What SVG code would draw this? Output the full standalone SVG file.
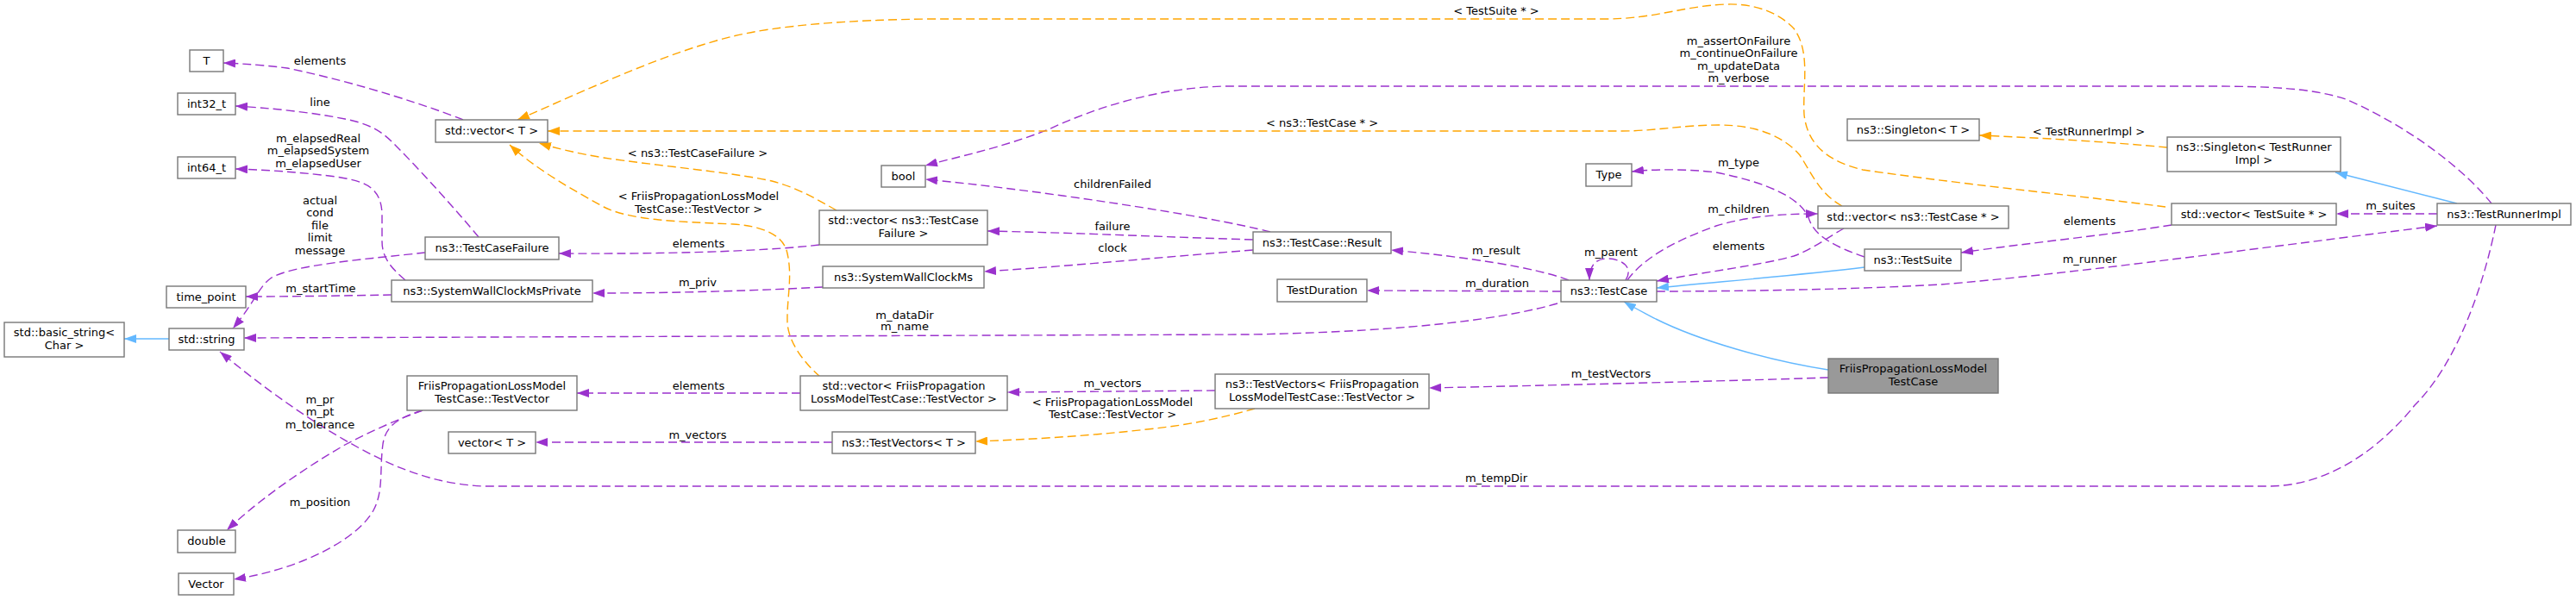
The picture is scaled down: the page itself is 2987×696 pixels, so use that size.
<svg xmlns="http://www.w3.org/2000/svg" width="2987" height="696" viewBox="0 0 2987 696">
<style>
text{font-family:"DejaVu Sans","Liberation Sans",sans-serif;font-size:13px;fill:#000}
.node text{text-anchor:middle}
.node rect{fill:#fff;stroke:#777;stroke-width:1.4}
#n_root rect{fill:#999}
.lbl text{text-anchor:middle}
.e{fill:none;stroke-width:1.4}
.p{stroke:#9a32cd;stroke-dasharray:10,5;marker-end:url(#ap)}
.o{stroke:#ffa500;stroke-dasharray:10,5;marker-end:url(#ao)}
.b{stroke:#63b8ff;marker-end:url(#ab)}
</style>
<defs>
<marker id="ap" viewBox="0 0 14 10" refX="14" refY="5" markerWidth="14" markerHeight="10" orient="auto" markerUnits="userSpaceOnUse"><path d="M0,0L14,5L0,10z" fill="#9a32cd"/></marker>
<marker id="ao" viewBox="0 0 14 10" refX="14" refY="5" markerWidth="14" markerHeight="10" orient="auto" markerUnits="userSpaceOnUse"><path d="M0,0L14,5L0,10z" fill="#ffa500"/></marker>
<marker id="ab" viewBox="0 0 14 10" refX="14" refY="5" markerWidth="14" markerHeight="10" orient="auto" markerUnits="userSpaceOnUse"><path d="M0,0L14,5L0,10z" fill="#63b8ff"/></marker>
</defs>
<rect width="2987" height="696" fill="#fff"/>
<g id="edges">
<path class="e p" d="M537,139 C505,126 420,97 333,79 C310,76 285,74 259,73"/>
<path class="e p" d="M555,275 C530,245 490,200 455,165 C440,150 425,143 400,138 C360,130 310,125 273,123"/>
<path class="e p" d="M470,325 C455,312 443,300 443,280 L443,250 C443,215 420,210 390,205 C350,200 310,197 273,196"/>
<path class="e p" d="M493,293 C430,300 340,307 315,322 C300,332 296,350 270,381"/>
<path class="e p" d="M454,342 C400,343 340,344 285,344"/>
<path class="e b" d="M196,393 L144,393"/>
<path class="e p" d="M1806,352 C1750,368 1650,384 1450,388 L283,392"/>
<path class="e p" d="M490,476 C465,485 430,500 400,516 C350,545 300,580 263,615"/>
<path class="e p" d="M490,476 C460,485 447,495 444,515 C440,545 445,570 433,592 C415,625 350,660 271,672"/>
<path class="e p" d="M2894,261 C2880,330 2850,420 2800,470 C2760,520 2700,564 2630,564 L560,564 C520,562 490,553 460,541 C400,515 330,470 255,408"/>
<path class="e p" d="M1819,325 C1780,310 1700,298 1613,290"/>
<path class="e p" d="M1810,338 L1585,337"/>
<path class="e p" d="M1885,325 C1895,310 1880,300 1864,300 C1850,300 1843,308 1843,325"/>
<path class="e p" d="M1887,325 C1905,300 1940,280 1990,262 C2030,250 2070,248 2108,248"/>
<path class="e p" d="M2138,265 C2120,275 2100,290 2080,297 C2040,308 1980,315 1921,326"/>
<path class="e p" d="M2162,298 C2130,287 2105,275 2098,255 C2090,230 2050,212 1990,200 C1950,195 1910,197 1892,199"/>
<path class="e b" d="M2162,310 C2080,320 1990,327 1921,334"/>
<path class="e b" d="M2120,429 C2050,418 1970,395 1920,370 C1905,362 1893,356 1883,350"/>
<path class="e p" d="M2120,438 C2000,442 1800,447 1657,450"/>
<path class="e p" d="M1409,453 L1168,455"/>
<path class="e o" d="M1455,474 C1420,484 1380,493 1330,498 C1260,506 1190,510 1131,512"/>
<path class="e p" d="M928,456 L669,456"/>
<path class="e p" d="M965,513 L621,513"/>
<path class="e o" d="M951,437 C935,423 915,400 913,375 C912,345 920,320 912,290 C905,270 880,262 850,260 C780,257 730,255 700,240 C660,218 620,195 591,168"/>
<path class="e o" d="M970,244 C945,230 925,218 895,210 C850,200 760,192 700,183 C670,178 645,172 625,166"/>
<path class="e p" d="M950,284 C900,290 800,295 648,294"/>
<path class="e p" d="M954,333 C880,337 790,340 687,340"/>
<path class="e p" d="M1473,269 C1400,250 1200,220 1073,208"/>
<path class="e p" d="M1453,278 C1350,275 1250,270 1145,268"/>
<path class="e p" d="M1453,290 C1350,298 1250,308 1141,315"/>
<path class="e p" d="M2889,236 C2860,200 2800,150 2720,115 C2680,102 2630,100 2560,100 L1420,100 C1340,102 1270,125 1216,150 C1160,172 1110,182 1073,192"/>
<path class="e o" d="M2511,240 C2420,228 2300,217 2160,197 C2110,185 2095,160 2092,133 C2090,100 2100,60 2080,33 C2060,12 2030,4 2002,5 C1950,7 1920,22 1860,22 L1080,22 C980,23 900,30 850,42 C770,62 690,100 600,139"/>
<path class="e o" d="M2136,239 C2110,225 2100,200 2087,180 C2070,160 2040,145 1993,145 C1950,145 1920,152 1880,152 L635,152"/>
<path class="e o" d="M2513,171 C2450,165 2370,160 2295,157"/>
<path class="e b" d="M2849,236 L2708,200"/>
<path class="e p" d="M2826,248 L2709,248"/>
<path class="e p" d="M2518,261 C2450,272 2350,282 2274,293"/>
<path class="e p" d="M1921,338 C2000,338 2150,336 2250,330 C2400,318 2600,290 2826,262"/>
</g>
<g class="lbl" id="labels">
<text x="371" y="75">elements</text>
<text x="371" y="123">line</text>
<text x="369" y="165">m_elapsedReal</text>
<text x="369" y="179">m_elapsedSystem</text>
<text x="369" y="194">m_elapsedUser</text>
<text x="371" y="237">actual</text>
<text x="371" y="251">cond</text>
<text x="371" y="266">file</text>
<text x="371" y="280">limit</text>
<text x="371" y="295">message</text>
<text x="372" y="339">m_startTime</text>
<text x="371" y="468">m_pr</text>
<text x="371" y="482">m_pt</text>
<text x="371" y="497">m_tolerance</text>
<text x="371" y="587">m_position</text>
<text x="1735" y="17">&lt; TestSuite * &gt;</text>
<text x="1533" y="147">&lt; ns3::TestCase * &gt;</text>
<text x="809" y="182">&lt; ns3::TestCaseFailure &gt;</text>
<text x="810" y="232">&lt; FriisPropagationLossModel</text>
<text x="810" y="247">TestCase::TestVector &gt;</text>
<text x="810" y="287">elements</text>
<text x="809" y="332">m_priv</text>
<text x="810" y="452">elements</text>
<text x="809" y="509">m_vectors</text>
<text x="1290" y="218">childrenFailed</text>
<text x="1290" y="267">failure</text>
<text x="1290" y="292">clock</text>
<text x="1049" y="370">m_dataDir</text>
<text x="1049" y="383">m_name</text>
<text x="1290" y="449">m_vectors</text>
<text x="1290" y="471">&lt; FriisPropagationLossModel</text>
<text x="1290" y="485">TestCase::TestVector &gt;</text>
<text x="1735" y="559">m_tempDir</text>
<text x="1735" y="295">m_result</text>
<text x="1736" y="333">m_duration</text>
<text x="1868" y="438">m_testVectors</text>
<text x="1868" y="297">m_parent</text>
<text x="2016" y="52">m_assertOnFailure</text>
<text x="2016" y="66">m_continueOnFailure</text>
<text x="2016" y="81">m_updateData</text>
<text x="2016" y="95">m_verbose</text>
<text x="2016" y="193">m_type</text>
<text x="2016" y="247">m_children</text>
<text x="2016" y="290">elements</text>
<text x="2422" y="157">&lt; TestRunnerImpl &gt;</text>
<text x="2423" y="261">elements</text>
<text x="2423" y="305">m_runner</text>
<text x="2772" y="243">m_suites</text>
</g>
<g id="n_T" class="node"><rect x="220" y="58" width="39" height="25"/><text x="239.5" y="75">T</text></g>
<g id="n_int32" class="node"><rect x="206" y="108" width="67" height="25"/><text x="239.5" y="125">int32_t</text></g>
<g id="n_int64" class="node"><rect x="206" y="182" width="67" height="25"/><text x="239.5" y="199">int64_t</text></g>
<g id="n_timepoint" class="node"><rect x="193" y="332" width="92" height="25"/><text x="239" y="349">time_point</text></g>
<g id="n_string" class="node"><rect x="196" y="381" width="87" height="25"/><text x="239.5" y="398">std::string</text></g>
<g id="n_basic" class="node"><rect x="5" y="374" width="139" height="40"/><text x="74.5" y="390">std::basic_string&lt;</text><text x="74.5" y="405">Char &gt;</text></g>
<g id="n_double" class="node"><rect x="206" y="615" width="67" height="26"/><text x="239.5" y="632">double</text></g>
<g id="n_vector" class="node"><rect x="207" y="665" width="64" height="25"/><text x="239" y="682">Vector</text></g>
<g id="n_stdvecT" class="node"><rect x="505" y="139" width="130" height="26"/><text x="570" y="156">std::vector&lt; T &gt;</text></g>
<g id="n_tcf" class="node"><rect x="493" y="275" width="155" height="26"/><text x="570.5" y="292">ns3::TestCaseFailure</text></g>
<g id="n_swcmp" class="node"><rect x="454" y="325" width="233" height="25"/><text x="570.5" y="342">ns3::SystemWallClockMsPrivate</text></g>
<g id="n_friistv" class="node"><rect x="472" y="436" width="197" height="40"/><text x="570.5" y="452">FriisPropagationLossModel</text><text x="570.5" y="467">TestCase::TestVector</text></g>
<g id="n_vecT" class="node"><rect x="520" y="501" width="101" height="25"/><text x="570.5" y="518">vector&lt; T &gt;</text></g>
<g id="n_bool" class="node"><rect x="1022" y="192" width="51" height="25"/><text x="1047.5" y="209">bool</text></g>
<g id="n_vectcf" class="node"><rect x="950" y="244" width="195" height="40"/><text x="1047.5" y="260">std::vector&lt; ns3::TestCase</text><text x="1047.5" y="275">Failure &gt;</text></g>
<g id="n_swcm" class="node"><rect x="954" y="309" width="187" height="25"/><text x="1047.5" y="326">ns3::SystemWallClockMs</text></g>
<g id="n_vecfriis" class="node"><rect x="928" y="436" width="240" height="40"/><text x="1048" y="452">std::vector&lt; FriisPropagation</text><text x="1048" y="467">LossModelTestCase::TestVector &gt;</text></g>
<g id="n_tvT" class="node"><rect x="965" y="501" width="166" height="25"/><text x="1048" y="518">ns3::TestVectors&lt; T &gt;</text></g>
<g id="n_result" class="node"><rect x="1453" y="269" width="160" height="25"/><text x="1533" y="286">ns3::TestCase::Result</text></g>
<g id="n_duration" class="node"><rect x="1481" y="324" width="104" height="26"/><text x="1533" y="341">TestDuration</text></g>
<g id="n_tvfriis" class="node"><rect x="1409" y="434" width="248" height="40"/><text x="1533" y="450">ns3::TestVectors&lt; FriisPropagation</text><text x="1533" y="465">LossModelTestCase::TestVector &gt;</text></g>
<g id="n_testcase" class="node"><rect x="1810" y="325" width="111" height="25"/><text x="1865.5" y="342">ns3::TestCase</text></g>
<g id="n_type" class="node"><rect x="1839" y="190" width="53" height="26"/><text x="1865.5" y="207">Type</text></g>
<g id="n_vectc" class="node"><rect x="2108" y="239" width="221" height="26"/><text x="2218.5" y="256">std::vector&lt; ns3::TestCase * &gt;</text></g>
<g id="n_suite" class="node"><rect x="2162" y="289" width="112" height="25"/><text x="2218" y="306">ns3::TestSuite</text></g>
<g id="n_singT" class="node"><rect x="2142" y="138" width="153" height="25"/><text x="2218.5" y="155">ns3::Singleton&lt; T &gt;</text></g>
<g id="n_root" class="node"><rect x="2120" y="416" width="197" height="40"/><text x="2218.5" y="432">FriisPropagationLossModel</text><text x="2218.5" y="447">TestCase</text></g>
<g id="n_singTR" class="node"><rect x="2513" y="159" width="201" height="40"/><text x="2613.5" y="175">ns3::Singleton&lt; TestRunner</text><text x="2613.5" y="190">Impl &gt;</text></g>
<g id="n_vects" class="node"><rect x="2518" y="236" width="191" height="25"/><text x="2613.5" y="253">std::vector&lt; TestSuite * &gt;</text></g>
<g id="n_runner" class="node"><rect x="2826" y="236" width="155" height="25"/><text x="2903.5" y="253">ns3::TestRunnerImpl</text></g>
</svg>
